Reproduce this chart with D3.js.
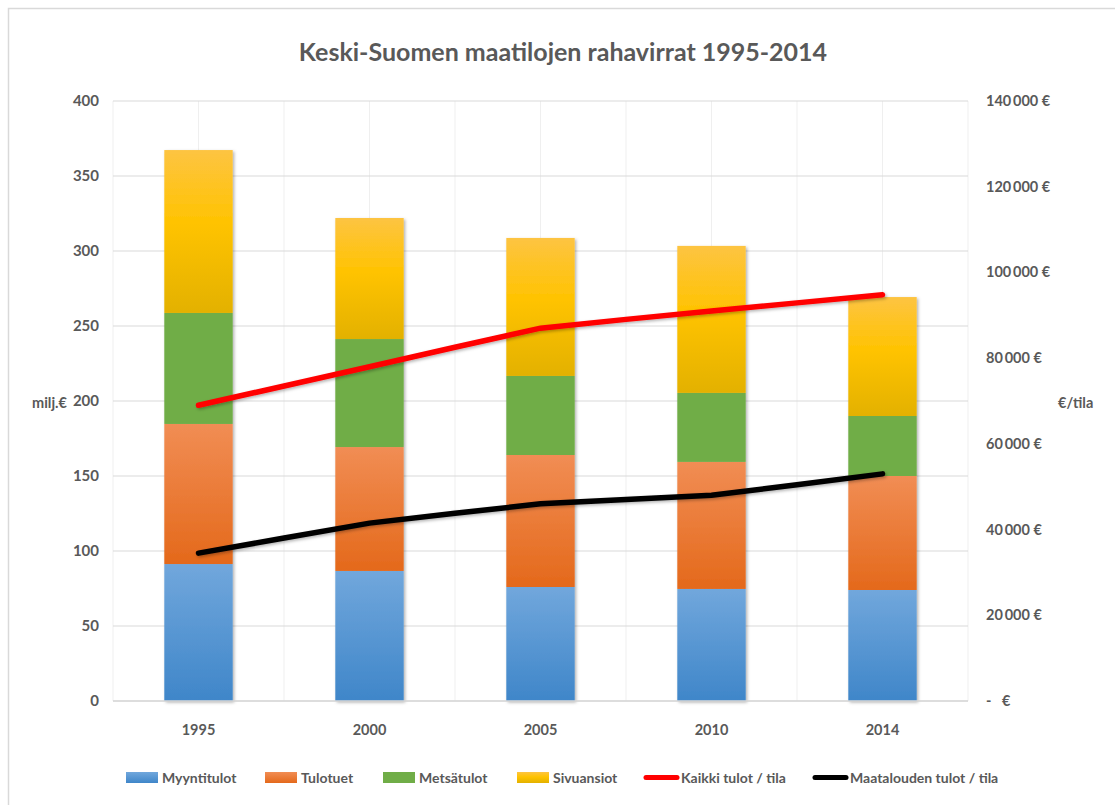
<!DOCTYPE html>
<html><head><meta charset="utf-8">
<script src="https://cdn.jsdelivr.net/npm/d3@7"></script>
<style>
body{margin:0;background:#fff;}
text{font-family:Lato,"Open Sans",sans-serif;fill:#595959;}
</style></head>
<body><svg id="c" width="1115" height="805"></svg>
<script>
const years = ["1995","2000","2005","2010","2014"];
const myyntitulot = [91.3, 86.7, 76, 74.7, 74];
const tulotuet   = [93.4, 82.6, 88, 84.7, 76];
const metsatulot = [74, 72, 52.7, 46, 40];
const sivuansiot = [108.6, 80.7, 92, 98, 79.3];
const kaikkiTulot = [69000, 78000, 87000, 91000, 94800];
const maatalousTulot = [34500, 41500, 46000, 48000, 53000];
const leftTicks = [0,50,100,150,200,250,300,350,400];
const rightTicks = [0,20000,40000,60000,80000,100000,120000,140000];

const seriesNames = ["Myyntitulot","Tulotuet","Metsätulot","Sivuansiot"];
const seriesData = [myyntitulot, tulotuet, metsatulot, sivuansiot];
const grads = [["#71a7dc","#3f86c9"],["#f18d54","#e4691b"],["#70ad47","#70ad47"],["#fdc442","#e3b100"]];

const svg = d3.select("#c");
const L=113, R=968, T=101, B=701;

const defs = svg.append("defs");
grads.forEach((g,i)=>{
  const lg = defs.append("linearGradient").attr("id","g"+i).attr("x1",0).attr("x2",0).attr("y1",0).attr("y2",1);
  if(i===3){
    lg.append("stop").attr("offset","0%").attr("stop-color","#fdc442");
    lg.append("stop").attr("offset","45%").attr("stop-color","#ffc300");
    lg.append("stop").attr("offset","100%").attr("stop-color","#e3b100");
  } else {
    lg.append("stop").attr("offset","0%").attr("stop-color",g[0]);
    lg.append("stop").attr("offset","100%").attr("stop-color",g[1]);
  }
});
const f = defs.append("filter").attr("id","sh").attr("x","-20%").attr("y","-20%").attr("width","140%").attr("height","140%");
f.append("feDropShadow").attr("dx",1.5).attr("dy",1.5).attr("stdDeviation",1.5).attr("flood-color","#000").attr("flood-opacity",0.3);

// border
svg.append("rect").attr("x",8.5).attr("y",8.5).attr("width",1130).attr("height",820).attr("fill","none").attr("stroke","#d9d9d9").attr("stroke-width",1.5);

const x = d3.scaleBand().domain(years).range([L,R]).paddingInner(0).paddingOuter(0);
const y = d3.scaleLinear().domain([0,400]).range([B,T]);
const y2 = d3.scaleLinear().domain([0,140000]).range([B,T]);

// vertical grid lines at half-band steps
const vx = [];
years.forEach(yr=>{vx.push(x(yr)); vx.push(x(yr)+x.bandwidth()/2);});
vx.push(R);
svg.append("g").selectAll("line").data(vx).join("line")
  .attr("x1",d=>d).attr("x2",d=>d).attr("y1",T).attr("y2",B)
  .attr("stroke","#efefef").attr("stroke-width",1);
// horizontal grid
svg.append("g").selectAll("line").data(leftTicks).join("line")
  .attr("x1",L).attr("x2",R).attr("y1",d=>y(d)).attr("y2",d=>y(d))
  .attr("stroke","#d9d9d9").attr("stroke-width",1.2);

// stacked bars
const table = years.map((yr,i)=>{const o={year:yr}; seriesNames.forEach((s,j)=>o[s]=seriesData[j][i]); return o;});
const stack = d3.stack().keys(seriesNames)(table);
const bw = x.bandwidth()*0.4;
const barG = svg.append("g").attr("filter","url(#sh)");
stack.forEach((layer,j)=>{
  barG.append("g").selectAll("rect").data(layer).join("rect")
    .attr("x",d=>x(d.data.year)+x.bandwidth()/2-bw/2)
    .attr("width",bw)
    .attr("y",d=>y(d[1]))
    .attr("height",d=>y(d[0])-y(d[1]))
    .attr("fill","url(#g"+j+")");
});

// axis baseline
svg.append("line").attr("x1",L).attr("x2",R).attr("y1",B).attr("y2",B).attr("stroke","#d9d9d9").attr("stroke-width",1.5);

// lines
const line = d3.line().x((d,i)=>x(years[i])+x.bandwidth()/2).y(d=>y2(d)).curve(d3.curveCardinal.tension(0.85));
svg.append("path").datum(maatalousTulot).attr("d",line).attr("fill","none").attr("stroke","#000").attr("stroke-width",5.5).attr("stroke-linecap","round").attr("filter","url(#sh)");
svg.append("path").datum(kaikkiTulot).attr("d",line).attr("fill","none").attr("stroke","#ff0000").attr("stroke-width",5.5).attr("stroke-linecap","round").attr("filter","url(#sh)");

// left axis labels
svg.append("g").selectAll("text").data(leftTicks).join("text")
  .attr("x",99).attr("y",d=>y(d)+5).attr("text-anchor","end")
  .style("font-size","15px").style("font-weight","bold").text(d=>d);
// right axis labels
const fmt = d => d===0 ? "-   €" : d3.format(",")(d).replace(/,/g,"\u2009") + " €";
svg.append("g").selectAll("text").data(rightTicks).join("text")
  .attr("x",986).attr("y",d=>y2(d)+5).attr("text-anchor","start")
  .style("font-size","14.5px").style("font-weight","bold").attr("xml:space","preserve").text(fmt);
// x labels
svg.append("g").selectAll("text").data(years).join("text")
  .attr("x",d=>x(d)+x.bandwidth()/2).attr("y",735).attr("text-anchor","middle")
  .style("font-size","14.5px").style("font-weight","bold").text(d=>d);

// axis titles
svg.append("text").attr("x",32).attr("y",408).style("font-size","14.5px").style("font-weight","bold").text("milj.€");
svg.append("text").attr("x",1058).attr("y",408).style("font-size","14.5px").style("font-weight","bold").text("€/tila");

// title
svg.append("text").attr("x",563).attr("y",61).attr("text-anchor","middle")
  .style("font-size","25px").style("font-weight","bold").text("Keski-Suomen maatilojen rahavirrat 1995-2014");

// legend
const legItems = [
  {name:"Myyntitulot",type:"rect",c:0,x:126},
  {name:"Tulotuet",type:"rect",c:1,x:265},
  {name:"Metsätulot",type:"rect",c:2,x:383},
  {name:"Sivuansiot",type:"rect",c:3,x:517},
  {name:"Kaikki tulot / tila",type:"line",col:"#ff0000",x:644},
  {name:"Maatalouden tulot / tila",type:"line",col:"#000",x:813}
];
const lg = svg.append("g");
legItems.forEach(it=>{
  if(it.type==="rect"){
    lg.append("rect").attr("x",it.x).attr("y",772).attr("width",32).attr("height",11).attr("fill","url(#g"+it.c+")");
  } else {
    lg.append("line").attr("x1",it.x+2).attr("x2",it.x+33).attr("y1",777.5).attr("y2",777.5).attr("stroke",it.col).attr("stroke-width",5).attr("stroke-linecap","round");
  }
  lg.append("text").attr("x",it.x+(it.type==="rect"?36:37)).attr("y",783).style("font-size","14px").style("font-weight","bold").text(it.name);
});
</script></body></html>
